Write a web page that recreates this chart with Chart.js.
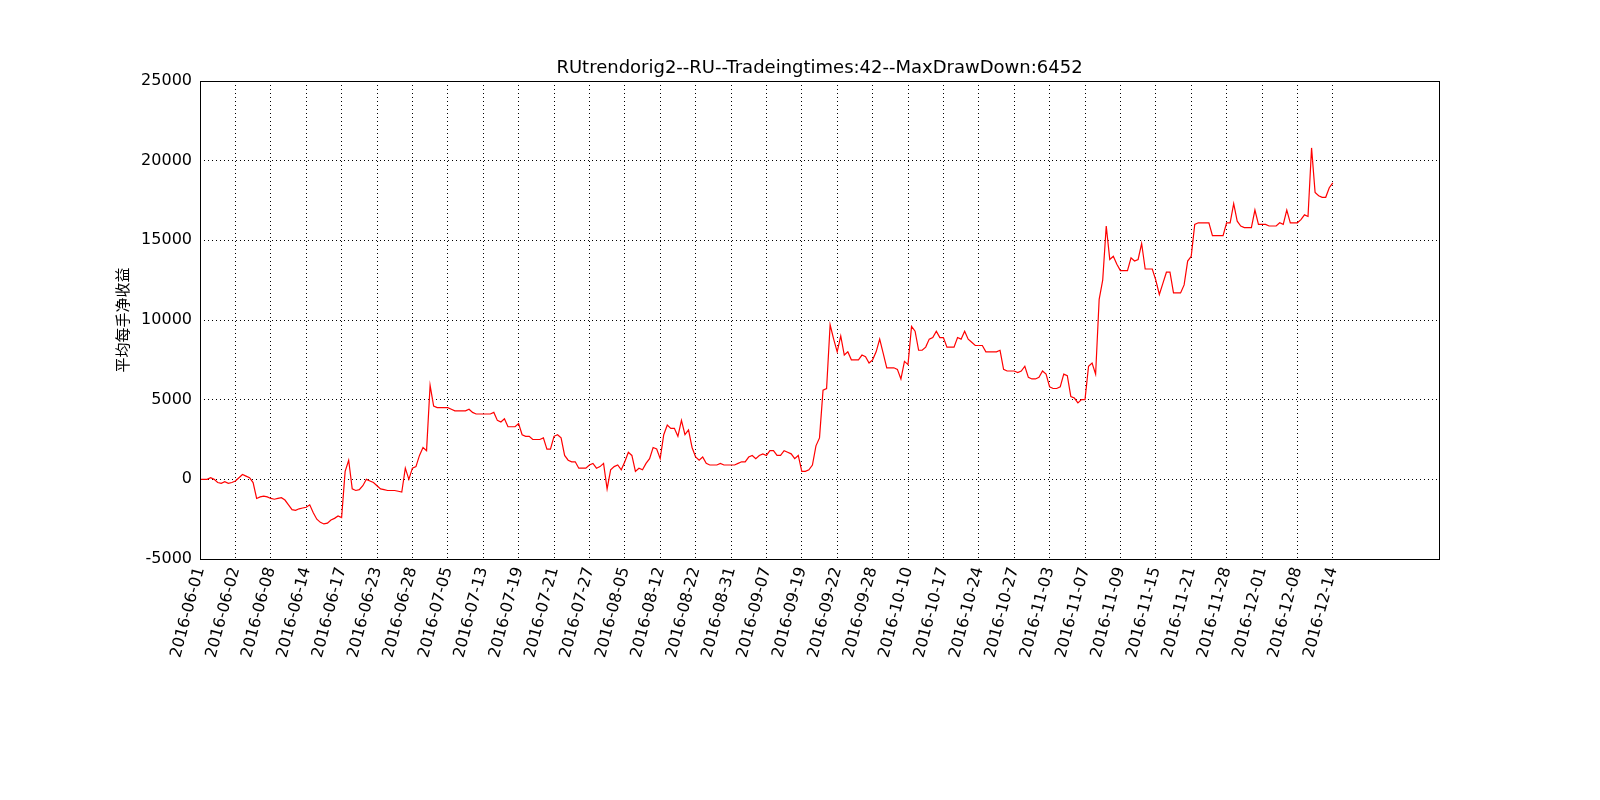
<!DOCTYPE html>
<html><head><meta charset="utf-8">
<script src="https://cdn.jsdelivr.net/npm/chart.js@4"></script>
<style>body{margin:0;background:#fff}#wrap{width:1600px;height:800px}</style>
</head><body><div id="wrap"><canvas id="c"></canvas></div>
<script>
// date labels, one every 10 trades
const tickDates = ['2016-06-01','2016-06-02','2016-06-08','2016-06-14','2016-06-17','2016-06-23','2016-06-28',
  '2016-07-05','2016-07-13','2016-07-19','2016-07-21','2016-07-27','2016-08-05','2016-08-12','2016-08-22',
  '2016-08-31','2016-09-07','2016-09-19','2016-09-22','2016-09-28','2016-10-10','2016-10-17','2016-10-24',
  '2016-10-27','2016-11-03','2016-11-07','2016-11-09','2016-11-15','2016-11-21','2016-11-28','2016-12-01',
  '2016-12-08','2016-12-14'];

// average net profit per lot
const profit = [
  0,0,0,100,0,-200,-250,-150,-250,-200,
  -100,100,300,200,100,-200,-1200,-1100,-1050,-1100,
  -1200,-1250,-1200,-1150,-1300,-1600,-1900,-1950,-1850,-1800,
  -1750,-1600,-2100,-2500,-2700,-2800,-2750,-2550,-2450,-2300,
  -2400,500,1200,-600,-700,-650,-400,0,-100,-200,
  -400,-600,-650,-700,-700,-700,-750,-800,700,0,
  700,800,1500,2000,1800,5900,4600,4500,4500,4500,
  4500,4400,4300,4300,4300,4300,4400,4200,4100,4100,
  4100,4100,4100,4200,3700,3600,3800,3300,3300,3300,
  3500,2800,2700,2700,2500,2500,2500,2600,1900,1900,
  2700,2800,2600,1500,1200,1100,1100,700,700,700,
  900,1000,700,800,1000,-600,600,800,900,600,
  1100,1700,1500,500,700,600,1000,1300,2000,1900,
  1300,2800,3400,3200,3200,2700,3700,2800,3100,2000,
  1400,1200,1400,1000,900,900,900,1000,900,900,
  900,900,1000,1100,1100,1400,1500,1300,1500,1600,
  1500,1800,1800,1500,1500,1800,1700,1600,1300,1500,
  500,500,600,900,2100,2600,5600,5700,9700,8800,
  8000,9000,7800,8000,7500,7500,7500,7800,7700,7300,
  7500,8000,8800,7900,7000,7000,7000,6900,6300,7400,
  7200,9600,9300,8100,8100,8300,8800,8900,9300,8900,
  8900,8300,8300,8300,8900,8800,9300,8800,8600,8400,
  8400,8400,8000,8000,8000,8000,8100,6900,6800,6800,
  6800,6700,6800,7100,6400,6300,6300,6400,6800,6600,
  5800,5700,5700,5800,6600,6500,5200,5100,4800,5000,
  5000,7100,7300,6600,11300,12500,15900,13800,14000,13500,
  13100,13100,13100,13900,13700,13800,14800,13200,13200,13200,
  12500,11600,12300,13000,13000,11700,11700,11700,12200,13700,
  14000,16000,16100,16100,16100,16100,15300,15300,15300,15300,
  16100,16100,17300,16200,15900,15800,15800,15800,16900,16000,
  16000,16000,15900,15900,15900,16100,16000,16900,16100,16100,
  16100,16300,16600,16500,20800,18000,17800,17700,17700,18300,
  18600
];

const chartTitle = 'RUtrendorig2--RU--Tradeingtimes:42--MaxDrawDown:6452';
const yTitle = '平均每手净收益';

const font = 'DejaVu Sans';
const grid = {color: '#000', drawTicks: false, lineWidth: 1};
const border = {display: false, dash: [1, 3]};

const frame = {
  id: 'frame',
  afterDraw(chart) {
    const {ctx, chartArea: a} = chart;
    ctx.save();
    ctx.strokeStyle = '#000';
    ctx.lineWidth = 1;
    ctx.strokeRect(a.left + 0.5, a.top + 0.5, a.right - a.left, a.bottom - a.top);
    ctx.fillStyle = '#000';
    ctx.font = '18px ' + font;
    ctx.textAlign = 'center';
    ctx.textBaseline = 'bottom';
    ctx.fillText(chartTitle, (a.left + a.right) / 2, a.top - 4);
    ctx.translate(122, (a.top + a.bottom) / 2);
    ctx.rotate(-Math.PI / 2);
    ctx.font = '15px "Noto Sans CJK SC"';
    ctx.textBaseline = 'middle';
    ctx.fillText(yTitle, 0, 0);
    ctx.restore();
  }
};

new Chart(document.getElementById('c'), {
  type: 'line',
  data: {
    datasets: [{
      data: profit.map((v, i) => ({x: i, y: v})),
      borderColor: '#ff0000',
      borderWidth: 1.2,
      pointRadius: 0,
      tension: 0
    }]
  },
  options: {
    responsive: true,
    maintainAspectRatio: false,
    animation: false,
    layout: {padding: {top: 81, right: 161, left: 0, bottom: 0}},
    plugins: {legend: {display: false}, tooltip: {enabled: false}},
    scales: {
      x: {
        type: 'linear', min: 0, max: 350,
        grid: grid, border: border,
        afterBuildTicks: s => { s.ticks = tickDates.map((d, i) => ({value: i * 10})); },
        afterFit: s => { s.height = 241; },
        ticks: {
          autoSkip: false, maxRotation: 75, minRotation: 75, padding: 6,
          color: '#000', font: {family: font, size: 16},
          callback: (v) => tickDates[Math.round(v / 10)] || ''
        }
      },
      y: {
        min: -5000, max: 25000,
        grid: grid, border: border,
        afterFit: s => { s.width = 200; },
        ticks: {stepSize: 5000, padding: 8, color: '#000', font: {family: font, size: 16},
          callback: v => String(v)}
      }
    }
  },
  plugins: [frame]
});
</script>
</body></html>
